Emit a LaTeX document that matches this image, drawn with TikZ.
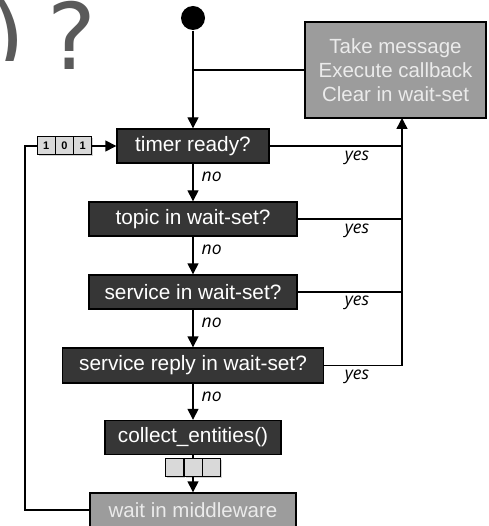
\documentclass[tikz,border=0pt]{standalone}
\usepackage{fontspec}
\usepackage{tikz}
\usetikzlibrary{arrows.meta,shadows}

\newfontfamily\boxfont{Liberation Sans}
\newfontfamily\lblfont{Open Sans}
\newfontfamily\bigfont{DejaVu Sans}
\definecolor{darkbox}{HTML}{363636}
\definecolor{greybox}{HTML}{9C9C9C}
\definecolor{cellgrey}{HTML}{D9D9D9}
\definecolor{bigtext}{HTML}{5A5A5A}

\begin{document}
\begin{tikzpicture}[x=1pt,y=-1pt,line width=1.4pt,
   arr/.style={-{Triangle[length=11pt,width=11pt]}},
   query/.style={draw=black,fill=darkbox,text=white,minimum height=34pt,inner sep=0pt,
      font=\boxfont\fontsize{20.8}{22}\selectfont},
   action/.style={draw=black,fill=greybox,text=white!92!black,align=center,inner sep=0pt,
      font=\boxfont\fontsize{20.5}{24}\selectfont},
   cell/.style={draw=black,line width=1pt,fill=cellgrey,minimum size=18pt,inner sep=0pt,
      drop shadow={shadow xshift=1.5pt,shadow yshift=-1.5pt,opacity=0.35},
      font=\boxfont\bfseries\fontsize{11}{11}\selectfont},
   nolbl/.style={right,pos=0.35,inner sep=0pt,xshift=8pt,font=\lblfont\itshape\fontsize{17.5}{17.5}\selectfont},
   yeslbl/.style={inner sep=0pt,font=\lblfont\itshape\fontsize{17.5}{17.5}\selectfont}]

   \useasboundingbox (0,0) rectangle (488,526);

   % title remains
   \begin{scope}
      \clip (0,0) rectangle (30,61);
      \node[anchor=base west,inner sep=0pt,text=bigtext,font=\bigfont\fontsize{92}{92}\selectfont] (paren) at (-11,70) {)};
   \end{scope}
   \node[anchor=base,inner sep=0pt,text=bigtext,font=\bigfont\fontsize{92}{92}\selectfont] (qmark) at (72,70) {?};

   \node[circle,fill=black,minimum size=24pt,inner sep=0pt] (start) at (193,18) {};
   \node[action,minimum width=181pt,minimum height=96pt] (act) at (395.5,70) {Take message\\Execute callback\\Clear in wait-set};

   \node[query,minimum width=152pt] (timer) at (193,146) {timer ready?};
   \node[query,minimum width=208pt] (topic) at (193,219) {topic in wait-set?};
   \node[query,minimum width=208pt] (service) at (193,292) {service in wait-set?};
   \node[query,minimum width=261pt,minimum height=35pt] (reply) at (193,365.5) {service reply in wait-set?};
   \node[query,minimum width=176pt] (collect) at (193,437.5) {collect\_entities()};
   \node[action,minimum width=206pt,minimum height=34pt] (wait) at (193,510) {wait in middleware};

   \node[cell] (q1) at (174.7,467) {};
   \node[cell] (q2) at (193,467) {};
   \node[cell] (q3) at (211.3,467) {};

   \node[cell] (b1) at (46.2,146) {1};
   \node[cell] (b2) at (64.5,146) {0};
   \node[cell] (b3) at (82.8,146) {1};

   \coordinate (rail) at (402,118);
   \coordinate (loop) at (25,510);

   \draw[arr] (start) -- (timer);
   \draw (act.west) -- (act.west -| start);

   \draw[arr] (timer) -- node[nolbl] {no} (topic);
   \draw[arr] (topic) -- node[nolbl] {no} (service);
   \draw[arr] (service) -- node[nolbl] {no} (reply);
   \draw[arr] (reply) -- node[nolbl] {no} (collect);
   \draw (collect) -- (q2);
   \draw[arr] (q2) -- (wait);

   \draw (timer) -- (timer -| rail);
   \draw (topic) -- (topic -| rail);
   \draw (service) -- (service -| rail);
   \draw[arr] (reply) -- (reply -| rail) -- (rail);
   \node[yeslbl] (yes1) at (357,158) {yes};
   \node[yeslbl] (yes2) at (357,231) {yes};
   \node[yeslbl] (yes3) at (357,303) {yes};
   \node[yeslbl] (yes4) at (357,377) {yes};

   \draw (wait) -- (loop) |- (b1);
   \draw[arr] (b3) -- (timer);
\end{tikzpicture}
\end{document}
